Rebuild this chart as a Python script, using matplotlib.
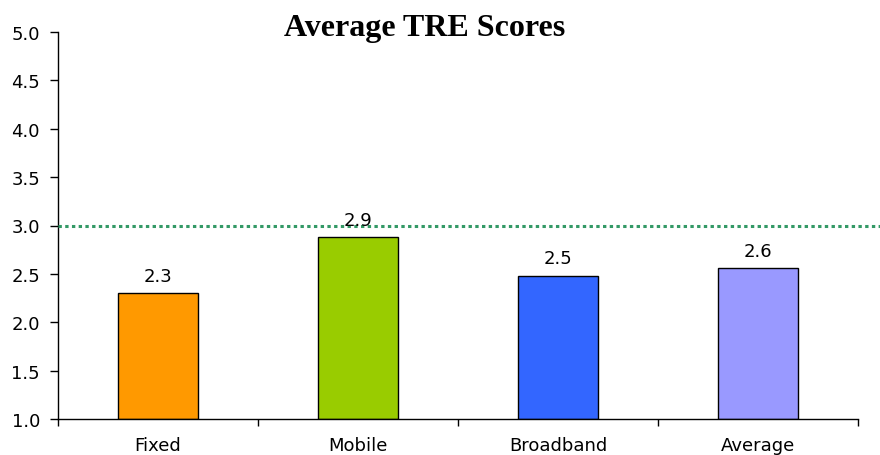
import matplotlib
matplotlib.use('Agg')
import matplotlib.pyplot as plt
import numpy as np

# дані з графіка
categories = ['Fixed', 'Mobile', 'Broadband', 'Average']
scores = [2.30, 2.88, 2.48, 2.56]
bar_colors = ['#FF9900', '#99CC00', '#3366FF', '#9999FF']
target = 3.0
y_ticks = [1.0, 1.5, 2.0, 2.5, 3.0, 3.5, 4.0, 4.5, 5.0]

fig = plt.figure(figsize=(8.8, 4.56), dpi=100)
ax = fig.add_axes([58 / 880, 1 - 420 / 456, 800 / 880, 387 / 456])

x = np.arange(len(categories))
bars = ax.bar(x, [s - 1.0 for s in scores], bottom=1.0, width=0.4,
              color=bar_colors, edgecolor='black', linewidth=1.0, zorder=2)

for xi, s in zip(x, scores):
    ax.annotate(f"{s:.1f}", (xi, s), xytext=(0, 6), textcoords='offset points',
                ha='center', va='bottom', fontsize=13, zorder=4)

# пунктирна лінія на рівні 3.0 (виходить за межі осі праворуч)
ax.plot([-0.5, 3.61], [target, target], color='#339966', linewidth=2.2,
        linestyle=(0, (1.1, 1.1)), clip_on=False, zorder=3)

ax.set_xlim(-0.5, 3.5)
ax.set_ylim(1.0, 5.0)
ax.set_yticks(y_ticks)
ax.set_yticklabels([f"{v:.1f}" for v in y_ticks], fontsize=13)

ax.set_xticks(np.arange(-0.5, 4.0, 1.0))
ax.set_xticklabels([])
ax.set_xticks(x, minor=True)
ax.set_xticklabels(categories, minor=True, fontsize=13)
ax.tick_params(axis='x', which='minor', length=0, pad=12.5)
ax.tick_params(axis='x', which='major', length=5, direction='out', width=1)
ax.tick_params(axis='y', length=6, direction='out', width=1, pad=7)

for side in ['top', 'right']:
    ax.spines[side].set_visible(False)
for side in ['left', 'bottom']:
    ax.spines[side].set_linewidth(1.0)

fig.text(425 / 880, 1 - 36 / 456, 'Average TRE Scores', ha='center', va='baseline',
         fontsize=23, fontweight='bold', family='Liberation Serif')

fig.savefig('out.png', dpi=100)
